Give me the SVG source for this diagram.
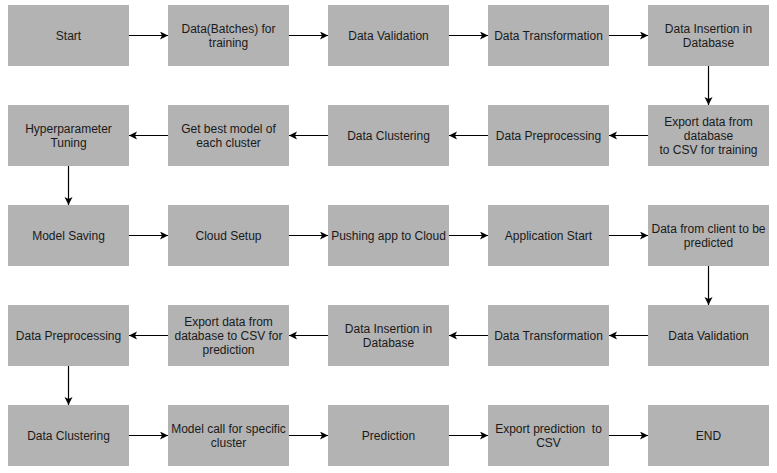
<svg xmlns="http://www.w3.org/2000/svg" width="777" height="473" viewBox="0 0 777 473">
<defs>
<style>
.box{fill:#b3b3b3;}
.t{font-family:"Liberation Sans",Arial,sans-serif;font-size:12px;fill:#1a1a1a;text-anchor:middle;white-space:pre;}
.c{stroke:#000;stroke-width:1.2;fill:none;marker-end:url(#ah);}
</style>
<marker id="ah" markerUnits="userSpaceOnUse" markerWidth="10" markerHeight="10" refX="8" refY="4" orient="auto">
<path d="M0,0 L8,4 L0,8 L2,4 Z" fill="#000"/>
</marker>
</defs>
<rect width="777" height="473" fill="#fff"/>
<g id="connectors">
<path class="c" d="M129,35.5 H168"/>
<path class="c" d="M289,35.5 H328"/>
<path class="c" d="M449,35.5 H488"/>
<path class="c" d="M609,35.5 H648"/>
<path class="c" d="M708.5,66 V105"/>
<path class="c" d="M648,135.5 H609"/>
<path class="c" d="M488,135.5 H449"/>
<path class="c" d="M328,135.5 H289"/>
<path class="c" d="M168,135.5 H129"/>
<path class="c" d="M68.5,166 V205"/>
<path class="c" d="M129,235.5 H168"/>
<path class="c" d="M289,235.5 H328"/>
<path class="c" d="M449,235.5 H488"/>
<path class="c" d="M609,235.5 H648"/>
<path class="c" d="M708.5,266 V305"/>
<path class="c" d="M648,335.5 H609"/>
<path class="c" d="M488,335.5 H449"/>
<path class="c" d="M328,335.5 H289"/>
<path class="c" d="M168,335.5 H129"/>
<path class="c" d="M68.5,366 V405"/>
<path class="c" d="M129,435.5 H168"/>
<path class="c" d="M289,435.5 H328"/>
<path class="c" d="M449,435.5 H488"/>
<path class="c" d="M609,435.5 H648"/>
</g>
<g id="n1"><rect class="box" x="8" y="5" width="121" height="61"/><text class="t" x="68.5" y="40">Start</text></g>
<g id="n2"><rect class="box" x="168" y="5" width="121" height="61"/><text class="t" x="228.5" y="33">Data(Batches) for</text><text class="t" x="228.5" y="47">training</text></g>
<g id="n3"><rect class="box" x="328" y="5" width="121" height="61"/><text class="t" x="388.5" y="40">Data Validation</text></g>
<g id="n4"><rect class="box" x="488" y="5" width="121" height="61"/><text class="t" x="548.5" y="40">Data Transformation</text></g>
<g id="n5"><rect class="box" x="648" y="5" width="121" height="61"/><text class="t" x="708.5" y="33">Data Insertion in</text><text class="t" x="708.5" y="47">Database</text></g>
<g id="n6"><rect class="box" x="648" y="105" width="121" height="61"/><text class="t" x="708.5" y="126">Export data from</text><text class="t" x="708.5" y="140">database</text><text class="t" x="708.5" y="154">to CSV for training</text></g>
<g id="n7"><rect class="box" x="488" y="105" width="121" height="61"/><text class="t" x="548.5" y="140">Data Preprocessing</text></g>
<g id="n8"><rect class="box" x="328" y="105" width="121" height="61"/><text class="t" x="388.5" y="140">Data Clustering</text></g>
<g id="n9"><rect class="box" x="168" y="105" width="121" height="61"/><text class="t" x="228.5" y="133">Get best model of</text><text class="t" x="228.5" y="147">each cluster</text></g>
<g id="n10"><rect class="box" x="8" y="105" width="121" height="61"/><text class="t" x="68.5" y="133">Hyperparameter</text><text class="t" x="68.5" y="147">Tuning</text></g>
<g id="n11"><rect class="box" x="8" y="205" width="121" height="61"/><text class="t" x="68.5" y="240">Model Saving</text></g>
<g id="n12"><rect class="box" x="168" y="205" width="121" height="61"/><text class="t" x="228.5" y="240">Cloud Setup</text></g>
<g id="n13"><rect class="box" x="328" y="205" width="121" height="61"/><text class="t" x="388.5" y="240">Pushing app to Cloud</text></g>
<g id="n14"><rect class="box" x="488" y="205" width="121" height="61"/><text class="t" x="548.5" y="240">Application Start</text></g>
<g id="n15"><rect class="box" x="648" y="205" width="121" height="61"/><text class="t" x="708.5" y="233">Data from client to be</text><text class="t" x="708.5" y="247">predicted</text></g>
<g id="n16"><rect class="box" x="648" y="305" width="121" height="61"/><text class="t" x="708.5" y="340">Data Validation</text></g>
<g id="n17"><rect class="box" x="488" y="305" width="121" height="61"/><text class="t" x="548.5" y="340">Data Transformation</text></g>
<g id="n18"><rect class="box" x="328" y="305" width="121" height="61"/><text class="t" x="388.5" y="333">Data Insertion in</text><text class="t" x="388.5" y="347">Database</text></g>
<g id="n19"><rect class="box" x="168" y="305" width="121" height="61"/><text class="t" x="228.5" y="326">Export data from</text><text class="t" x="228.5" y="340">database to CSV for</text><text class="t" x="228.5" y="354">prediction</text></g>
<g id="n20"><rect class="box" x="8" y="305" width="121" height="61"/><text class="t" x="68.5" y="340">Data Preprocessing</text></g>
<g id="n21"><rect class="box" x="8" y="405" width="121" height="61"/><text class="t" x="68.5" y="440">Data Clustering</text></g>
<g id="n22"><rect class="box" x="168" y="405" width="121" height="61"/><text class="t" x="228.5" y="433">Model call for specific</text><text class="t" x="228.5" y="447">cluster</text></g>
<g id="n23"><rect class="box" x="328" y="405" width="121" height="61"/><text class="t" x="388.5" y="440">Prediction</text></g>
<g id="n24"><rect class="box" x="488" y="405" width="121" height="61"/><text class="t" x="548.5" y="433">Export prediction  to</text><text class="t" x="548.5" y="447">CSV</text></g>
<g id="n25"><rect class="box" x="648" y="405" width="121" height="61"/><text class="t" x="708.5" y="440">END</text></g>
</svg>
